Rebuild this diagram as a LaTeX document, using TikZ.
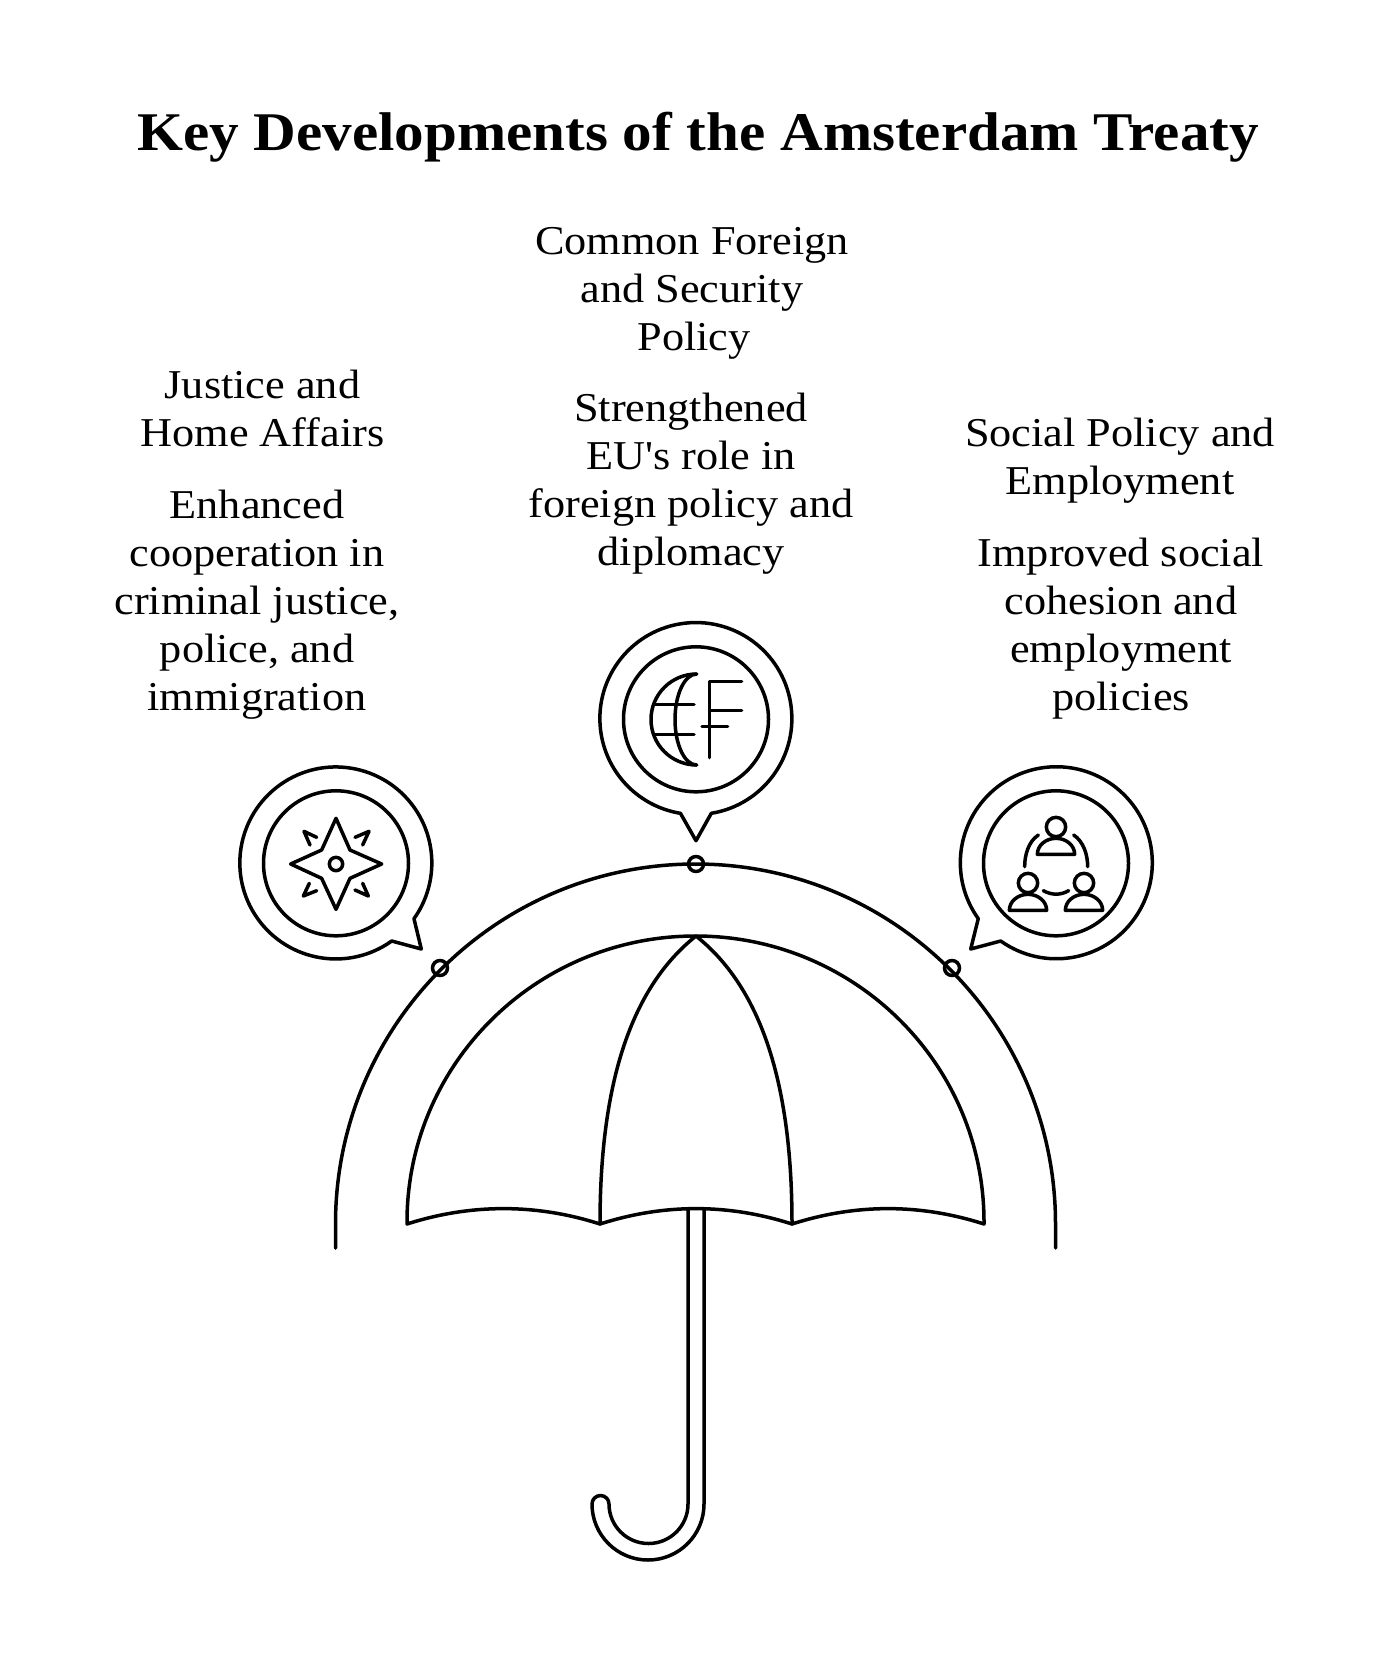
\documentclass[tikz,border=0pt]{standalone}
\usepackage{fontspec}
\setmainfont{Liberation Serif}
\newfontfamily\titlefont[FakeStretch=1.084]{Liberation Serif}
\newfontfamily\bodyfont[FakeStretch=1.08]{Liberation Serif}
\begin{document}
\begin{tikzpicture}[x=1pt,y=-1pt,
  ln/.style={line width=3.5pt,line join=round,line cap=round,black},
  dot/.style={circle,draw=black,line width=3.5pt,minimum size=15pt,inner sep=0pt},
  ring/.style={circle,draw=black,line width=3.5pt,inner sep=0pt,minimum size=145pt},
  txt/.style={align=center,inner sep=0pt,font=\bodyfont\fontsize{41}{48}\selectfont,text=black},
  ttl/.style={inner sep=0pt,font=\titlefont\bfseries\fontsize{54.5}{60}\selectfont,text=black}]
\useasboundingbox (0,0) rectangle (1392,1680);
\fill[white] (0,0) rectangle (1392,1680);
\node[ttl] (title) at (698,137) {Key Developments of the Amsterdam Treaty};
\node[txt] (cfsp) at (692,293.5) {Common Foreign\\and Security\\\hspace{4pt}Policy};
\node[txt] (cfspb) at (691,484) {Strengthened\\EU's role in\\foreign policy and\\diplomacy};
\node[txt] (jha) at (262.5,408) {Justice and\\Home Affairs};
\node[txt] (jhab) at (257,605) {Enhanced\\cooperation in\\criminal justice,\\police, and\\immigration};
\node[txt] (spe) at (1120,460.5) {Social Policy and\\Employment};
\node[txt] (speb) at (1121,629) {Improved social\\cohesion and\\employment\\policies};

% outer arc
\coordinate (al) at (335.5,1248);
\coordinate (ar) at (1055.5,1248);
\draw[ln] (al) -- (335.5,1224) arc[start angle=180,end angle=360,radius=360] -- (ar);
% canopy
\draw[ln] (407,1222) arc[start angle=180,end angle=360,x radius=288.5,y radius=286]
  -- (984,1224)
  .. controls (920,1203.5) and (856,1203.5) .. (792,1224)
  .. controls (728,1203.5) and (664,1203.5) .. (600,1224)
  .. controls (536,1203.5) and (471,1203.5) .. (407,1224) -- cycle;
\draw[ln] (696,936) .. controls (628,990) and (600,1090) .. (600,1224);
\draw[ln] (696,936) .. controls (764,990) and (792,1090) .. (792,1224);
% handle
\draw[ln] (688,1209) -- (688,1504) arc[start angle=0,end angle=180,radius=39.5] arc[start angle=0,end angle=-180,radius=8.5] arc[start angle=180,end angle=0,radius=56] -- (704,1209);
% dots
\node[dot] (d1) at (440,968) {};
\node[dot] (d2) at (696,864) {};
\node[dot] (d3) at (952,968) {};
% bubbles
\node[ring] (i1) at (336,863.3) {};
\node[ring] (i2) at (696,719.3) {};
\node[ring] (i3) at (1056,863.3) {};
\draw[ln] (391.7,941) arc[start angle=54.4,end angle=395.5,radius=96] -- (421.3,949) -- cycle;
\draw[ln] (711.3,813.3) arc[start angle=80.75,end angle=-260.75,radius=96] -- (696,840.7) -- cycle;
\draw[ln] (1000.7,941) arc[start angle=125.4,end angle=-215.6,radius=96] -- (970.7,949) -- cycle;
% compass
\begin{scope}[shift={(220,750)},scale=1/3]
\draw[ln] (348,205) -- (390,300) -- (485,342) -- (390,385) -- (348,478) -- (305,385) -- (212,342) -- (305,300) -- cycle;
\draw[ln] (348,342) circle[radius=20];
\draw[ln] (290,262) -- (252,244) -- (270,285);
\draw[ln] (405,262) -- (447,244) -- (428,285);
\draw[ln] (290,422) -- (250,438) -- (268,400);
\draw[ln] (405,420) -- (445,438) -- (428,400);
\end{scope}
% globe and F
\begin{scope}[shift={(580,610)},scale=1/3]
\draw[ln] (350,192) arc[start angle=270,end angle=90,x radius=137,y radius=136.5];
\draw[ln] (350,192) arc[start angle=270,end angle=90,x radius=65,y radius=136.5];
\draw[ln] (222,284) -- (342,284);
\draw[ln] (222,374) -- (342,374);
\draw[ln] (485,215) -- (389,215) -- (389,443);
\draw[ln] (389,302) -- (485,302);
\draw[ln] (366,350) -- (443,350);
\end{scope}
% people
\begin{scope}[shift={(930,750)},scale=1/3]
\draw[ln] (378,231) circle[radius=29];
\draw[ln] (322,313) arc[start angle=180,end angle=360,x radius=56,y radius=48] -- cycle;
\draw[ln] (294,399) circle[radius=29];
\draw[ln] (238,481) arc[start angle=180,end angle=360,x radius=56,y radius=48] -- cycle;
\draw[ln] (462,399) circle[radius=29];
\draw[ln] (406,481) arc[start angle=180,end angle=360,x radius=56,y radius=48] -- cycle;
\draw[ln] (325,255) .. controls (295,275) and (284,315) .. (284,350);
\draw[ln] (431,255) .. controls (461,275) and (473,315) .. (473,350);
\draw[ln] (340,422) .. controls (365,436) and (392,436) .. (416,422);
\end{scope}
\end{tikzpicture}
\end{document}
